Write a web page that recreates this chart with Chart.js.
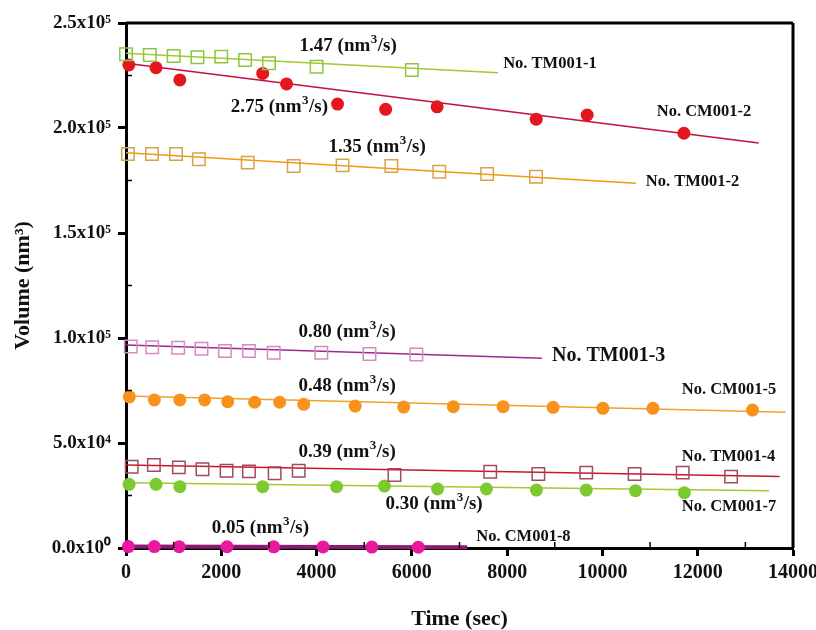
<!DOCTYPE html>
<html><head><meta charset="utf-8">
<script src="https://cdn.jsdelivr.net/npm/chart.js@4.4.1/dist/chart.umd.min.js"></script>
<style>html,body{margin:0;padding:0;background:#fff}</style>
</head><body>
<canvas id="c" width="816" height="630" style="display:block;width:816px;height:630px"></canvas>
<script>
// ---- data ----
const tm1T = [0,500,1000,1500,2000,2500,3000,4000,6000];
const tm1V = [235100,234800,234300,233700,234000,232400,230800,229200,227600];
const cm2T = [60,630,1130,2870,3370,4440,5450,6530,8610,9680,11710];
const cm2V = [230000,228700,222900,226000,221000,211400,208900,210100,204200,206200,197500];
const tm2T = [40,545,1050,1530,2555,3520,4545,5570,6575,7580,8605];
const tm2V = [187600,187600,187600,185100,183500,181900,182200,181900,179200,178100,176800];
const tm3T = [100,550,1095,1585,2075,2580,3100,4100,5110,6095];
const tm3V = [95950,95630,95350,94870,93810,93810,93000,93000,92380,92100];
const cm5T = [70,595,1130,1650,2135,2700,3225,3730,4810,5830,6870,7915,8965,10010,11060,13150];
const cm5V = [72000,70500,70500,70500,69700,69400,69400,68400,67600,67100,67300,67300,67000,66500,66500,65700];
const tm4T = [120,585,1110,1605,2110,2580,3120,3625,5635,7645,8655,9660,10675,11685,12700];
const tm4V = [38700,39500,38400,37500,36800,36500,35600,36800,34800,36300,35200,35900,35200,35900,34000];
const cm7T = [65,630,1130,2870,4420,5425,6540,7565,8615,9660,10695,11720];
const cm7V = [30300,30300,29200,29200,29200,29500,28100,28100,27600,27600,27300,26300];
const cm8T = [50,595,1115,2120,3100,4135,5160,6135];
const cm8V = [700,680,650,600,560,500,450,400];

// fitted lines (start at t=0)
const fitStartV = [235600,230800,188200,96700,72400,39500,31100,700];
const fitEndT   = [7810,13280,10700,8730,13840,13720,13500,7160];
const fitEndV   = [226300,192900,173700,90300,64600,34000,27300,350];

const seriesNames = ['No. TM001-1','No. CM001-2','No. TM001-2','No. TM001-3','No. CM001-5','No. TM001-4','No. CM001-7','No. CM001-8'];
const rates = ['1.47','2.75','1.35','0.80','0.48','0.39','0.30','0.05'];

// label anchors in data units [time, volume]
const rateAt = [[3644,239050],[2199,210000],[4251,190950],[3623,102860],[3623,77140],[3623,45710],[5445,20950],[1801,9500]];
const nameAt = [[7916,230480],[11141,207620],[10911,174290],[8942,91430],[11665,75240],[11665,43330],[11665,19520],[7351,5240]];

const xMin = 0, xMax = 14000, xStep = 2000;
const yMin = 0, yMax = 250000, yStep = 50000;

// ---- styles ----
const allT = [tm1T,cm2T,tm2T,tm3T,cm5T,tm4T,cm7T,cm8T];
const allV = [tm1V,cm2V,tm2V,tm3V,cm5V,tm4V,cm7V,cm8V];
const markerStyle = ['rect','circle','rect','rect','circle','rect','circle','circle'];
const markerColor = ['#8cc63e','#e4161f','#d6a34c','#d58ac4','#f7921c','#a34a5e','#7cc930','#e619a0'];
const lineColor = ['#a2c92e','#c4123c','#f29a0e','#9c2a8c','#f1a02a','#c8162f','#a8c832','#8c1a6e'];
const lineW = [1.5,1.5,1.5,1.5,1.5,1.5,1.5,4];

const pts = (ts, vs) => ts.map((t,i)=>({x:t, y:vs[i]}));
const datasets = [];
for (let i=0;i<8;i++){
  const filled = markerStyle[i]==='circle';
  datasets.push({
    type:'scatter', label: seriesNames[i], data: pts(allT[i], allV[i]),
    pointStyle: markerStyle[i], pointRadius: filled ? 6.5 : 8.8,
    pointBackgroundColor: filled ? markerColor[i] : 'rgba(0,0,0,0)',
    pointBorderColor: markerColor[i], pointBorderWidth: filled ? 0 : 1.5,
    showLine:false, clip:false
  });
}
for (let i=0;i<8;i++){
  datasets.push({
    type:'line', label: seriesNames[i]+' fit',
    data: [{x:0,y:fitStartV[i]},{x:fitEndT[i],y:fitEndV[i]}],
    borderColor: lineColor[i], borderWidth: lineW[i], pointRadius:0, fill:false, clip:false
  });
}

const supMap = {'0':'\u2070','1':'\u00b9','2':'\u00b2','3':'\u00b3','4':'\u2074','5':'\u2075','6':'\u2076','7':'\u2077','8':'\u2078','9':'\u2079'};
function sciLabel(v){
  let e = 0, m = 0;
  if (v !== 0){ e = Math.floor(Math.log10(v)+1e-9); m = v/Math.pow(10,e); }
  return m.toFixed(1) + 'x10' + String(e).split('').map(c=>supMap[c]).join('');
}

const SERIF = '"Liberation Serif","Times New Roman",serif';

// draws "r (nm" + superscript 3 + "/s)"
function drawRate(ctx, r, px, py){
  const base = 'bold 19px ' + SERIF, sup = 'bold 13px ' + SERIF;
  let x = px;
  ctx.font = base; const a = r + ' (nm';
  ctx.fillText(a, x, py); x += ctx.measureText(a).width + 0.5;
  ctx.font = sup; ctx.fillText('3', x, py - 6); x += ctx.measureText('3').width + 0.5;
  ctx.font = base; ctx.fillText('/s)', x, py);
}

const decor = {
  id:'decor',
  afterDatasetsDraw(chart){
    const {ctx, chartArea:a, scales:{x,y}} = chart;
    ctx.save();
    ctx.strokeStyle='#000';
    ctx.lineWidth=3;
    ctx.beginPath();
    ctx.moveTo(a.left, a.top); ctx.lineTo(a.right, a.top);
    ctx.moveTo(a.right, a.top); ctx.lineTo(a.right, a.bottom);
    ctx.stroke();
    ctx.lineWidth=1.5;
    ctx.beginPath();
    for (let t=xMin+xStep/2; t<xMax; t+=xStep){
      const px = x.getPixelForValue(t);
      ctx.moveTo(px, a.bottom); ctx.lineTo(px, a.bottom-6);
    }
    for (let v=yMin+yStep/2; v<yMax; v+=yStep){
      const py = y.getPixelForValue(v);
      ctx.moveTo(a.left, py); ctx.lineTo(a.left+6, py);
    }
    ctx.stroke();
    ctx.fillStyle='#111';
    ctx.textAlign='left'; ctx.textBaseline='middle';
    for (let i=0;i<8;i++){
      drawRate(ctx, rates[i], x.getPixelForValue(rateAt[i][0]), y.getPixelForValue(rateAt[i][1]));
      ctx.font = (i===3 ? 'bold 20px ' : 'bold 16.5px ') + SERIF;
      ctx.fillText(seriesNames[i], x.getPixelForValue(nameAt[i][0]), y.getPixelForValue(nameAt[i][1]));
    }
    ctx.restore();
  }
};

new Chart(document.getElementById('c'), {
  type:'scatter',
  data:{datasets},
  options:{
    responsive:false, animation:false, devicePixelRatio:1,
    layout:{padding:{top:23,right:23,left:0,bottom:0}},
    plugins:{legend:{display:false}, tooltip:{enabled:false}},
    scales:{
      x:{
        type:'linear', min:xMin, max:xMax,
        ticks:{stepSize:xStep, color:'#111', padding:5, font:{family:SERIF, size:20, weight:'bold'}, maxRotation:0, callback:(v)=>String(v)},
        grid:{display:true, drawOnChartArea:false, drawTicks:true, tickLength:8, tickWidth:3, tickColor:'#000'},
        border:{display:true, width:3, color:'#000'},
        title:{display:true, text:'Time (sec)', color:'#111', font:{family:SERIF, size:22, weight:'bold', lineHeight:1}, padding:{top:0,bottom:0}},
        afterFit(s){ s.height = 82; s.paddingLeft = 0; s.paddingRight = 0; }
      },
      y:{
        type:'linear', min:yMin, max:yMax,
        ticks:{stepSize:yStep, color:'#111', padding:7, font:{family:SERIF, size:19, weight:'bold'}, callback:(v)=>sciLabel(v)},
        grid:{display:true, drawOnChartArea:false, drawTicks:true, tickLength:8, tickWidth:3, tickColor:'#000'},
        border:{display:true, width:3, color:'#000'},
        title:{display:true, text:'Volume (nm\u00b3)', color:'#111', font:{family:SERIF, size:22, weight:'bold', lineHeight:1}, padding:{top:12,bottom:0}},
        afterFit(s){ s.width = 126; s.paddingTop = 0; s.paddingBottom = 0; }
      }
    }
  },
  plugins:[decor]
});
</script>
</body></html>
